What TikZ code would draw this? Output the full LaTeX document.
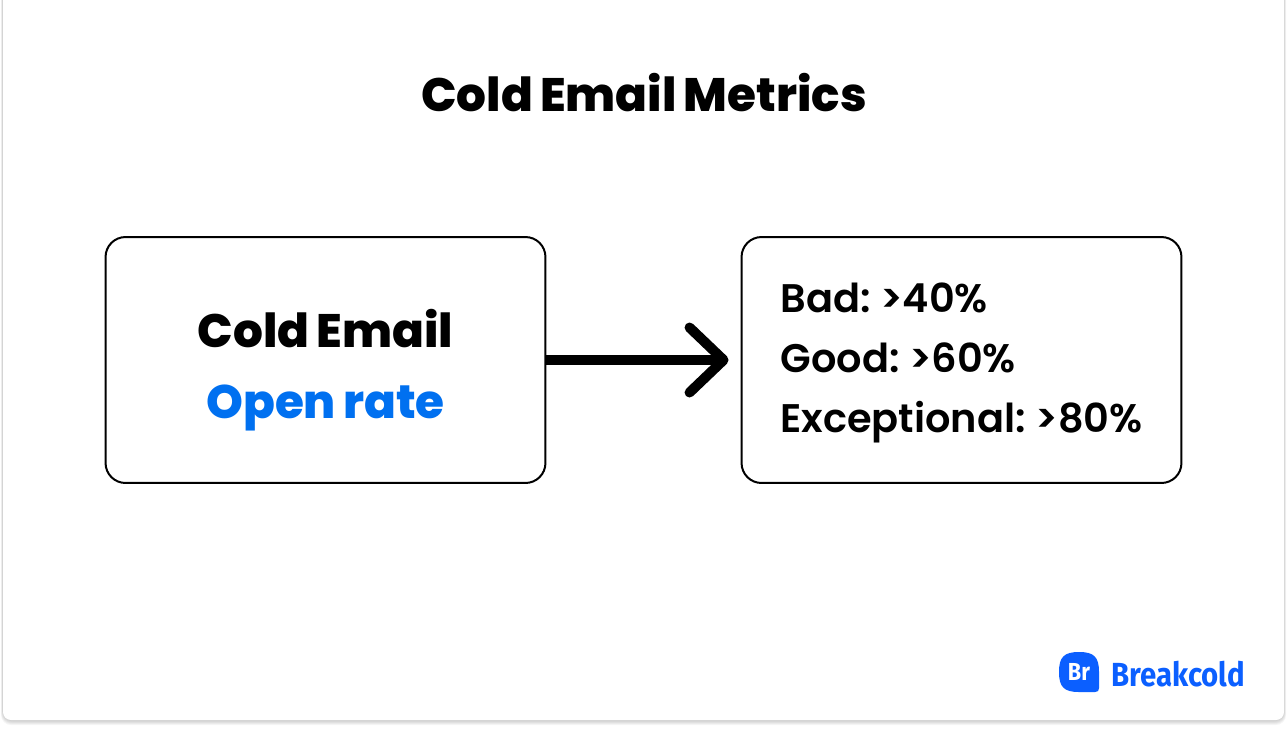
\documentclass[tikz,border=0pt]{standalone}
\usepackage{fontspec}
\usepackage{xcolor}
\usetikzlibrary{arrows.meta}
\setmainfont{Poppins}[BoldFont=* ExtraBold,WordSpace=0.8]
\newfontfamily\medfont{Poppins SemiBold}
\newfontfamily\logofont{Fira Sans}[BoldFont=* Bold,FakeStretch=0.88]
\definecolor{openblue}{HTML}{0070F0}
\definecolor{logoblue}{HTML}{0B5FFF}
\tikzset{
  metricbox/.style={draw=black,line width=0.04cm,rounded corners=0.4cm,fill=white,
    minimum width=8.8cm,minimum height=4.92cm,inner sep=0pt},
}

\begin{document}
\begin{tikzpicture}[x=0.02cm,y=-0.02cm]
  \useasboundingbox (0,0) rectangle (1288,728);
  \frenchspacing
  % card and its shadow
  \fill[white] (0,0) rectangle (1288,728);
  \foreach \s in {5,4,3,2,1}
    \fill[black,opacity=0.04,rounded corners=0.2cm] (3-0.4*\s,-10) rectangle (1284+0.4*\s,720+\s);
  \fill[white,rounded corners=0.16cm] (3,-10) rectangle (1284,720);

  \node[font=\fontsize{26.7}{30}\selectfont\bfseries] (title) at (644,92.5) {Cold Email Metrics};

  \node[metricbox,align=center,font=\fontsize{26.7}{40.4}\selectfont\bfseries] (coldbox) at (325.5,360)
    {\rule{0pt}{1.18cm}Cold Email\\\textcolor{openblue}{Open rate}};
  \node[metricbox,align=left,font=\fontsize{22.7}{34.2}\selectfont\medfont] (ratebox) at (961.5,360)
    {\rule{0pt}{0.7cm}Bad: >40\%\\Good: >60\%\\Exceptional: >80\%};

  \draw[line width=0.2cm,shorten >=0.24cm,
    -{Straight Barb[length=0.68cm,width=1.3cm,round]}] (coldbox) -- (ratebox);

  % logo
  \fill[logoblue] (1059,672) .. controls (1059,657) and (1064,652) .. (1079,652)
    .. controls (1094,652) and (1099,657) .. (1099,672)
    -- (1099,688) .. controls (1099,691) and (1098,692) .. (1095,692)
    -- (1079,692) .. controls (1064,692) and (1059,687) .. (1059,672) -- cycle;
  \node[white] (logomark) at (1079,672) {\fontsize{14}{16}\selectfont\logofont\bfseries Br};
  \node[logoblue,anchor=west,inner sep=0pt] (logotext) at (1111,674)
    {\fontsize{19}{22}\selectfont\logofont\bfseries Breakcold};
\end{tikzpicture}
\end{document}
